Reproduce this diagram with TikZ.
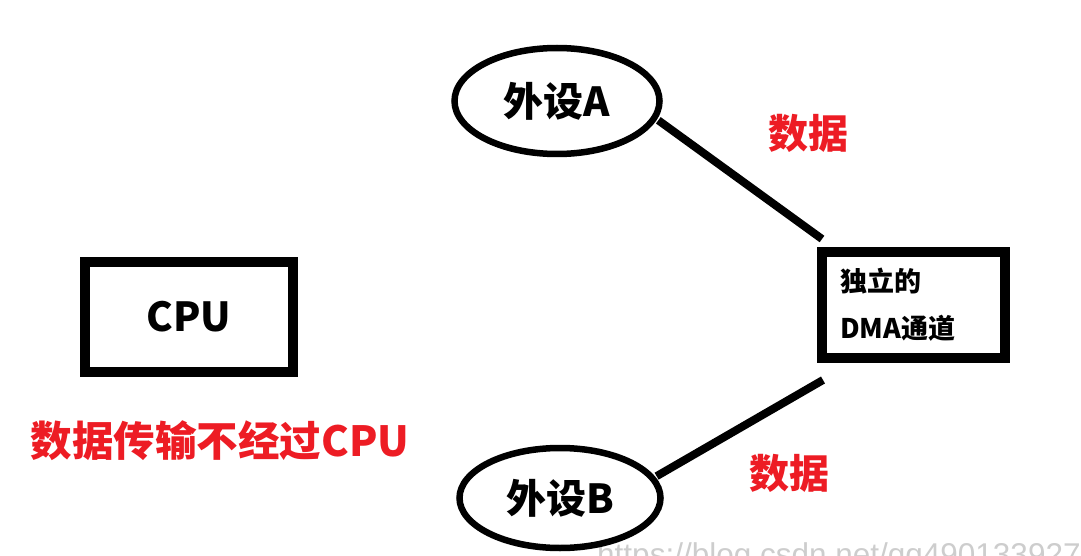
\documentclass[tikz,border=0pt]{standalone}
\usepackage{fontspec}
\setmainfont{Noto Sans CJK SC}
\newfontfamily\wmfont{Liberation Sans}
\usetikzlibrary{shapes.geometric,calc}
\definecolor{pred}{RGB}{237,28,36}
\definecolor{wmgray}{RGB}{205,205,205}
\begin{document}
\begin{tikzpicture}[x=1pt,y=-1pt,
  thickbox/.style={draw=black,line width=10pt,inner sep=0pt},
  periph/.style={draw=black,ellipse,line width=6.5pt,inner sep=0pt,font=\bfseries\fontsize{40}{40}\selectfont},
  link/.style={draw=black,line width=8pt},
  redlabel/.style={text=pred,font=\bfseries\fontsize{40}{40}\selectfont,inner sep=0pt}]
\useasboundingbox (0,0) rectangle (1081,556);
\fill[white] (0,0) rectangle (1081,556);
\begin{scope}
\clip (0,0) rectangle (1081,556);
\node[anchor=base west,text=wmgray,font=\wmfont\fontsize{31.5}{31.5}\selectfont,inner sep=0pt] (wm) at (597,565) {https://blog.csdn.net/qq490133927};
\end{scope}
% CPU
\node[thickbox,minimum width=208pt,minimum height=110pt,font=\bfseries\fontsize{40}{40}\selectfont] (cpu) at (189,317) {CPU};
\node[redlabel,font=\bfseries\fontsize{41.5}{41.5}\selectfont] (note) at (220,441) {数据传输不经过CPU};
% peripherals
\node[periph,minimum width=205pt,minimum height=106pt] (A) at (557,101) {外设A};
\node[periph,minimum width=201pt,minimum height=100pt] (B) at (560,498) {外设B};
% DMA
\node[thickbox,minimum width=183pt,minimum height=106pt,text width=147pt,inner xsep=18pt,align=left,font=\bfseries\fontsize{27}{47}\selectfont] (dma) at (913.5,305) {独立的\\DMA通道};
% links
\draw[link] ([shift={(2,0)}]A.-11) -- ([shift={(5,-8)}]dma.north west);
\draw[link] ([shift={(6,17)}]dma.south west) -- ([shift={(2,0)}]B.13);
% labels
\node[redlabel] (dA) at (808,133) {数据};
\node[redlabel] (dB) at (789,473) {数据};
\end{tikzpicture}
\end{document}
